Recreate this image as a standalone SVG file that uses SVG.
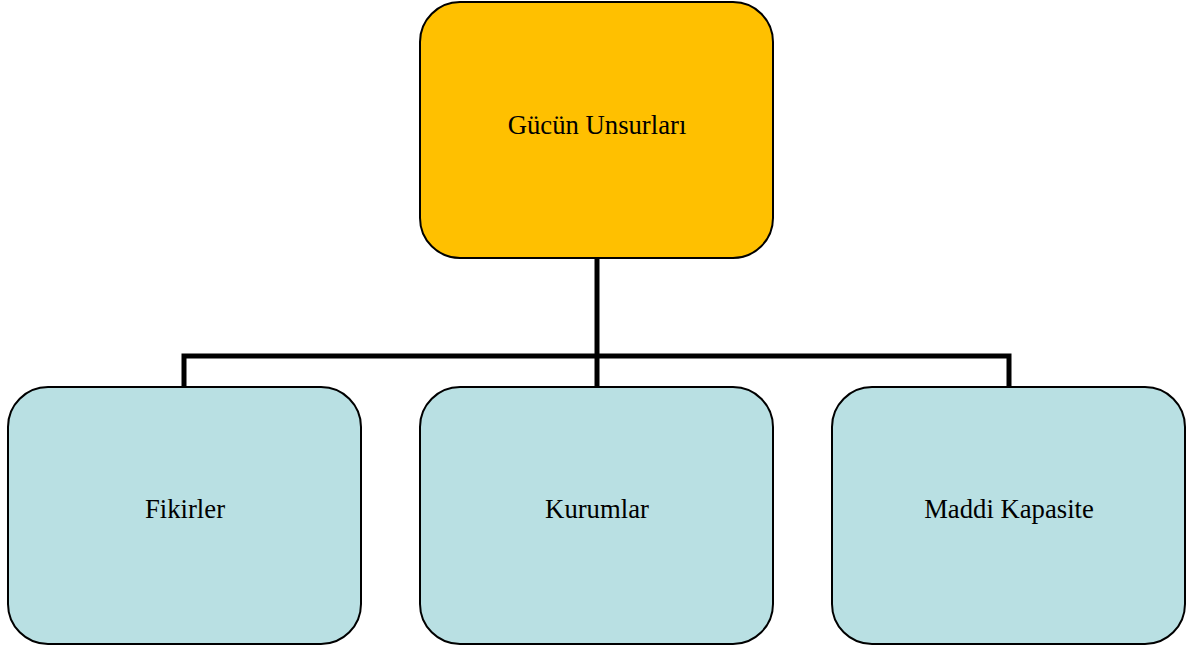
<svg xmlns="http://www.w3.org/2000/svg" width="1192" height="653" viewBox="0 0 1192 653">
<style>
.box{stroke:#000;stroke-width:2}
.top{fill:#FFC000}
.child{fill:#B9E0E3}
.lbl{font-family:"Liberation Serif","Times New Roman",serif;font-size:26.7px;fill:#000;text-anchor:middle;dominant-baseline:central}
.conn{fill:none;stroke:#000;stroke-width:5;stroke-linejoin:miter}
</style>
<rect width="1192" height="653" fill="#fff"/>
<g id="connectors">
<path class="conn" d="M597 258 V356"/>
<path class="conn" d="M184 387 V356 H1009 V387"/>
<path class="conn" d="M597 356 V387"/>
</g>
<g id="node-root">
<rect class="box top" x="420" y="2" width="353" height="256" rx="40" ry="40"/>
<text class="lbl" x="597" y="125">Gücün Unsurları</text>
</g>
<g id="node-fikirler">
<rect class="box child" x="8" y="387" width="353" height="257" rx="40" ry="40"/>
<text class="lbl" x="185" y="509">Fikirler</text>
</g>
<g id="node-kurumlar">
<rect class="box child" x="420" y="387" width="353" height="257" rx="40" ry="40"/>
<text class="lbl" x="597" y="509">Kurumlar</text>
</g>
<g id="node-maddi">
<rect class="box child" x="832" y="387" width="353" height="257" rx="40" ry="40"/>
<text class="lbl" x="1009" y="509">Maddi Kapasite</text>
</g>
</svg>
